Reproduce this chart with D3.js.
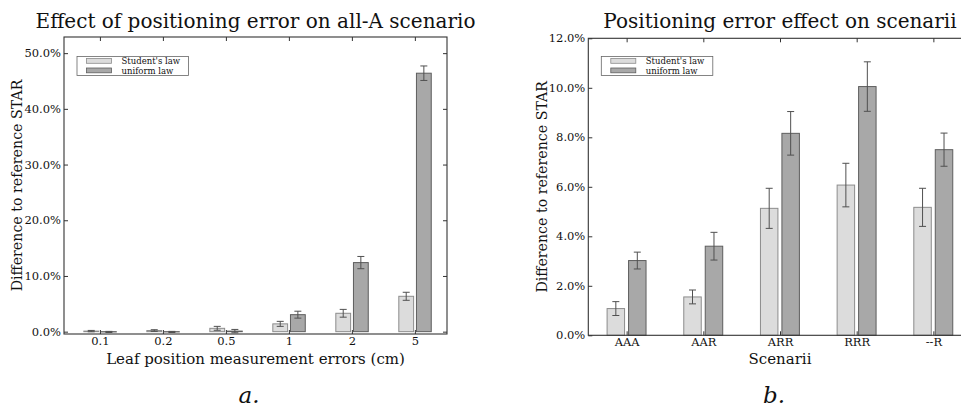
<!DOCTYPE html>
<html><head><meta charset="utf-8">
<script src="https://cdn.jsdelivr.net/npm/d3@7/dist/d3.min.js"></script>
<style>
html,body{margin:0;padding:0;background:#fff;overflow:hidden;}
text{font-family:"DejaVu Serif",serif;fill:#111;}
</style></head>
<body>
<svg id="c" width="961" height="407"></svg>
<script>
// ---- data (left chart) ----
const errCats = ["0.1","0.2","0.5","1","2","5"];
const errStudent = [0.1, 0.2, 0.6, 1.4, 3.3, 6.35];
const errStudentSd = [0.12, 0.15, 0.35, 0.45, 0.7, 0.72];
const errUniform = [-0.05, -0.05, 0.1, 3.05, 12.4, 46.4];
const errUniformSd = [0.1, 0.1, 0.3, 0.62, 1.1, 1.3];
const leftTicks = [0, 10, 20, 30, 40, 50];

// ---- data (right chart) ----
const scenCats = ["AAA","AAR","ARR","RRR","--R"];
const scenStudent = [1.08, 1.55, 5.13, 6.07, 5.17];
const scenStudentSd = [0.28, 0.28, 0.81, 0.88, 0.77];
const scenUniform = [3.02, 3.6, 8.16, 10.05, 7.5];
const scenUniformSd = [0.34, 0.56, 0.88, 1.0, 0.67];
const rightTicks = [0, 2, 4, 6, 8, 10, 12];

const seriesNames = ["Student's law", "uniform law"];

const svg = d3.select("#c");
const LIGHT = "#dcdcdc", LIGHT_S = "#8c8c8c";
const DARK = "#a8a8a8", DARK_S = "#5e5e5e";
const ERR = "#505050";

function chart(opt){
  const g = svg.append("g");
  const {x0,x1,y0,y1} = opt;
  const x = d3.scaleLinear().domain(opt.xdom).range([x0,x1]);
  const y = d3.scaleLinear().domain(opt.ydom).range([y1,y0]);
  const bw = opt.bw;
  const series = [
    {vals: opt.s1, sd: opt.s1sd, off: -0.255, fill: LIGHT, stroke: LIGHT_S},
    {vals: opt.s2, sd: opt.s2sd, off: 0.025, fill: DARK, stroke: DARK_S}
  ];
  series.forEach(s=>{
    g.selectAll(null).data(s.vals).enter().append("rect")
      .attr("x",(d,i)=>x(i+s.off))
      .attr("width",x(bw)-x(0))
      .attr("y",d=>Math.min(y(d),y(0)))
      .attr("height",d=>Math.abs(y(0)-y(d)))
      .attr("fill",s.fill).attr("stroke",s.stroke).attr("stroke-width",1);
  });
  series.forEach(s=>{
    const cx = i=>x(i+s.off+bw/2);
    const eg = g.selectAll(null).data(s.vals).enter().append("g")
      .attr("stroke",ERR).attr("stroke-width",1);
    eg.append("line").attr("x1",(d,i)=>cx(i)).attr("x2",(d,i)=>cx(i))
      .attr("y1",(d,i)=>y(d-s.sd[i])).attr("y2",(d,i)=>y(d+s.sd[i]));
    eg.append("line").attr("x1",(d,i)=>cx(i)-3.5).attr("x2",(d,i)=>cx(i)+3.5)
      .attr("y1",(d,i)=>y(d-s.sd[i])).attr("y2",(d,i)=>y(d-s.sd[i]));
    eg.append("line").attr("x1",(d,i)=>cx(i)-3.5).attr("x2",(d,i)=>cx(i)+3.5)
      .attr("y1",(d,i)=>y(d+s.sd[i])).attr("y2",(d,i)=>y(d+s.sd[i]));
  });
  // spines
  g.append("rect").attr("x",x0).attr("y",y0).attr("width",x1-x0).attr("height",y1-y0)
    .attr("fill","none").attr("stroke","#333").attr("stroke-width",1.1);
  // y axis (ticks inward)
  const ya = d3.axisLeft(y).tickValues(opt.yticks).tickSize(-4).tickPadding(3)
    .tickFormat(d=>d.toFixed(1)+"%");
  const yg = g.append("g").attr("transform",`translate(${x0},0)`).call(ya);
  const ya2 = d3.axisRight(y).tickValues(opt.yticks).tickSize(-4).tickFormat("");
  const yg2 = g.append("g").attr("transform",`translate(${x1},0)`).call(ya2);
  const idx = opt.cats.map((c,i)=>i);
  const xa = d3.axisBottom(x).tickValues(idx).tickSize(-4).tickPadding(2.5)
    .tickFormat(i=>opt.cats[i]);
  const xg = g.append("g").attr("transform",`translate(0,${y1})`).call(xa);
  const xa2 = d3.axisTop(x).tickValues(idx).tickSize(-4).tickFormat("");
  const xg2 = g.append("g").attr("transform",`translate(0,${y0})`).call(xa2);
  [yg,yg2,xg,xg2].forEach(a=>{
    a.select(".domain").remove();
    a.selectAll(".tick line").attr("stroke","#333");
    a.selectAll("text").style("font-family","DejaVu Serif").style("font-size","11.5px").attr("fill","#111");
  });
  // titles
  g.append("text").attr("x",(x0+x1)/2).attr("y",28).attr("text-anchor","middle")
    .style("font-size","20px").text(opt.title);
  g.append("text").attr("transform",`translate(${opt.ylx},${(y0+y1)/2}) rotate(-90)`)
    .attr("text-anchor","middle").style("font-size","14.2px").text("Difference to reference STAR");
  g.append("text").attr("x",(x0+x1)/2).attr("y",364).attr("text-anchor","middle")
    .style("font-size","15px").text(opt.xlabel);
  g.append("text").attr("x",opt.tagx).attr("y",403).attr("text-anchor","middle")
    .style("font-size","23px").style("font-style","italic").text(opt.tag);
  // legend
  const lx = x0+13, ly = 56.5;
  const lg = g.append("g");
  lg.append("rect").attr("x",lx).attr("y",ly).attr("width",111.5).attr("height",19)
    .attr("fill","#fff").attr("stroke","#666").attr("stroke-width",0.8);
  [[LIGHT,LIGHT_S],[DARK,DARK_S]].forEach((c,i)=>{
    lg.append("rect").attr("x",lx+9.5).attr("y",ly+2+i*9.5).attr("width",25).attr("height",4.8)
      .attr("fill",c[0]).attr("stroke",c[1]).attr("stroke-width",0.8);
    lg.append("text").attr("x",lx+44.5).attr("y",ly+7.6+i*9.5).style("font-size","8.5px").text(seriesNames[i]);
  });
}

chart({x0:64,x1:447,y0:37,y1:334,xdom:[-0.57,5.51],ydom:[-0.42,52.9],bw:0.235,
  cats:errCats,s1:errStudent,s1sd:errStudentSd,s2:errUniform,s2sd:errUniformSd,
  yticks:leftTicks,title:"Effect of positioning error on all-A scenario",
  xlabel:"Leaf position measurement errors (cm)",ylx:22,tag:"a.",tagx:249});
chart({x0:588.3,x1:971.7,y0:38.3,y1:335.3,xdom:[-0.5,4.5],ydom:[0,12],bw:0.228,
  cats:scenCats,s1:scenStudent,s1sd:scenStudentSd,s2:scenUniform,s2sd:scenUniformSd,
  yticks:rightTicks,title:"Positioning error effect on scenarii",
  xlabel:"Scenarii",ylx:547,tag:"b.",tagx:774});
</script>
</body></html>
